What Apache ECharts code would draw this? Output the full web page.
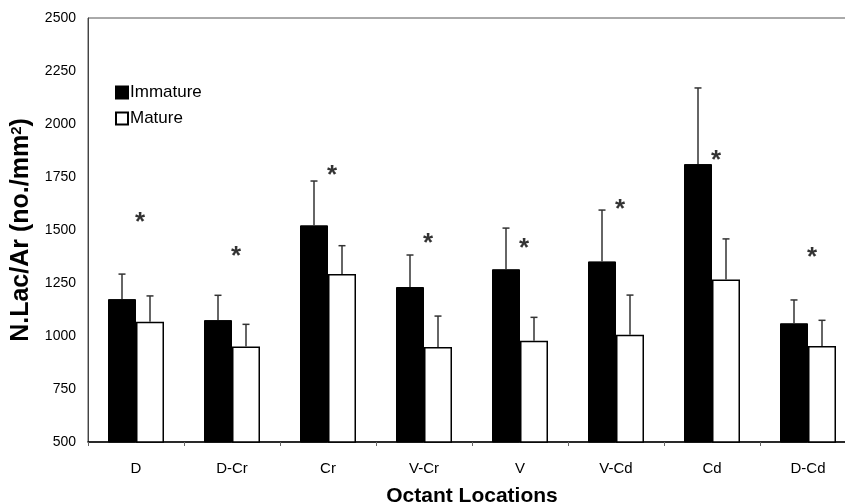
<!DOCTYPE html>
<html>
<head>
<meta charset="utf-8">
<script src="https://cdn.jsdelivr.net/npm/echarts@6/dist/echarts.min.js"></script>
<style>
  html, body { margin: 0; padding: 0; background: #fff; }
  #chart { width: 845px; height: 504px; }
</style>
</head>
<body>
<div id="chart"></div>
<script>
// ---- data ----
var categories = ['D', 'D-Cr', 'Cr', 'V-Cr', 'V', 'V-Cd', 'Cd', 'D-Cd'];
var immature = [1174, 1075, 1522, 1231, 1315, 1352, 1811, 1060];
var immatureSD = [118, 117, 209, 151, 194, 242, 359, 110];
var mature = [1067, 950, 1292, 948, 978, 1006, 1267, 953];
var matureSD = [122, 105, 134, 146, 110, 187, 191, 121];
var asteriskLevel = [1563, 1402, 1786, 1461, 1440, 1623, 1854, 1398];
var yTicks = { min: 500, max: 2500, interval: 250 };

var FONT = 'Liberation Sans, Arial, Helvetica, sans-serif';
var BAR_W = 28;

function errorData(means, sds) {
  return means.map(function (m, i) { return [i, m, m + sds[i]]; });
}

function errorRenderer(side) {
  return function (params, api) {
    var idx = api.value(0);
    var base = api.coord([idx, api.value(1)]);
    var top = api.coord([idx, api.value(2)]);
    var x = base[0] + side * BAR_W / 2;
    var cap = 3.5;
    var style = { stroke: '#333', lineWidth: 1.5, fill: null };
    return {
      type: 'group',
      children: [
        { type: 'line', shape: { x1: x, y1: base[1], x2: x, y2: top[1] }, style: style },
        { type: 'line', shape: { x1: x - cap, y1: top[1], x2: x + cap, y2: top[1] }, style: style }
      ]
    };
  };
}

var chart = echarts.init(document.getElementById('chart'), null, { renderer: 'canvas' });
chart.setOption({
  animation: false,
  backgroundColor: '#fff',
  textStyle: { fontFamily: FONT, color: '#000' },
  grid: {
    left: 88, right: -11, top: 18, bottom: 62,
    outerBoundsMode: 'none',
    containLabel: false,
    show: true, borderColor: '#555', borderWidth: 1, backgroundColor: 'transparent'
  },
  legend: {
    orient: 'vertical',
    left: 110, top: 79,
    itemWidth: 12, itemHeight: 12, itemGap: 9,
    icon: 'rect',
    textStyle: { fontFamily: FONT, fontSize: 17, color: '#000', padding: [0, 0, 0, -3] },
    data: ['Immature', 'Mature']
  },
  xAxis: {
    type: 'category',
    data: categories,
    name: 'Octant Locations',
    nameLocation: 'middle',
    nameGap: 44,
    nameTextStyle: { fontFamily: FONT, fontSize: 21, fontWeight: 'bold', color: '#000' },
    axisLine: { lineStyle: { color: '#000', width: 1.5 } },
    axisTick: { show: true, length: 4, lineStyle: { color: '#666' } },
    axisLabel: { fontFamily: FONT, fontSize: 15, color: '#000', margin: 19 },
    splitLine: { show: false }
  },
  yAxis: {
    type: 'value',
    min: yTicks.min, max: yTicks.max, interval: yTicks.interval,
    name: 'N.Lac/Ar (no./mm{sup|2})',
    nameLocation: 'middle',
    nameGap: 43,
    nameRotate: 90,
    nameTextStyle: {
      fontFamily: FONT, fontSize: 25, fontWeight: 'bold', color: '#000',
      rich: { sup: { fontFamily: FONT, fontSize: 15, fontWeight: 'bold', verticalAlign: 'top', color: '#000' } }
    },
    axisLine: { show: true, lineStyle: { color: '#444', width: 1 } },
    axisTick: { show: false },
    axisLabel: {
      fontFamily: FONT, fontSize: 14, color: '#000', margin: 12,
      formatter: function (v) { return String(v); }
    },
    splitLine: { show: false }
  },
  series: [
    {
      name: 'Immature', type: 'bar', data: immature,
      barWidth: BAR_W, barGap: '0%',
      itemStyle: { color: '#000', borderColor: '#000', borderWidth: 1 }
    },
    {
      name: 'Mature', type: 'bar', data: mature,
      barWidth: BAR_W, barGap: '0%',
      itemStyle: { color: '#fff', borderColor: '#000', borderWidth: 1.5 }
    },
    {
      name: 'immatureErr', type: 'custom', data: errorData(immature, immatureSD),
      renderItem: errorRenderer(-1), z: 5, silent: true,
      encode: { x: 0, y: [1, 2] }
    },
    {
      name: 'matureErr', type: 'custom', data: errorData(mature, matureSD),
      renderItem: errorRenderer(1), z: 5, silent: true,
      encode: { x: 0, y: [1, 2] }
    },
    {
      name: 'significance', type: 'scatter', data: asteriskLevel,
      symbolSize: 0, silent: true, z: 6,
      label: {
        show: true, position: 'inside', formatter: '*',
        fontFamily: FONT, fontSize: 26, fontWeight: 'bold', color: '#000',
        offset: [4, 6]
      }
    }
  ]
});
</script>
</body>
</html>
